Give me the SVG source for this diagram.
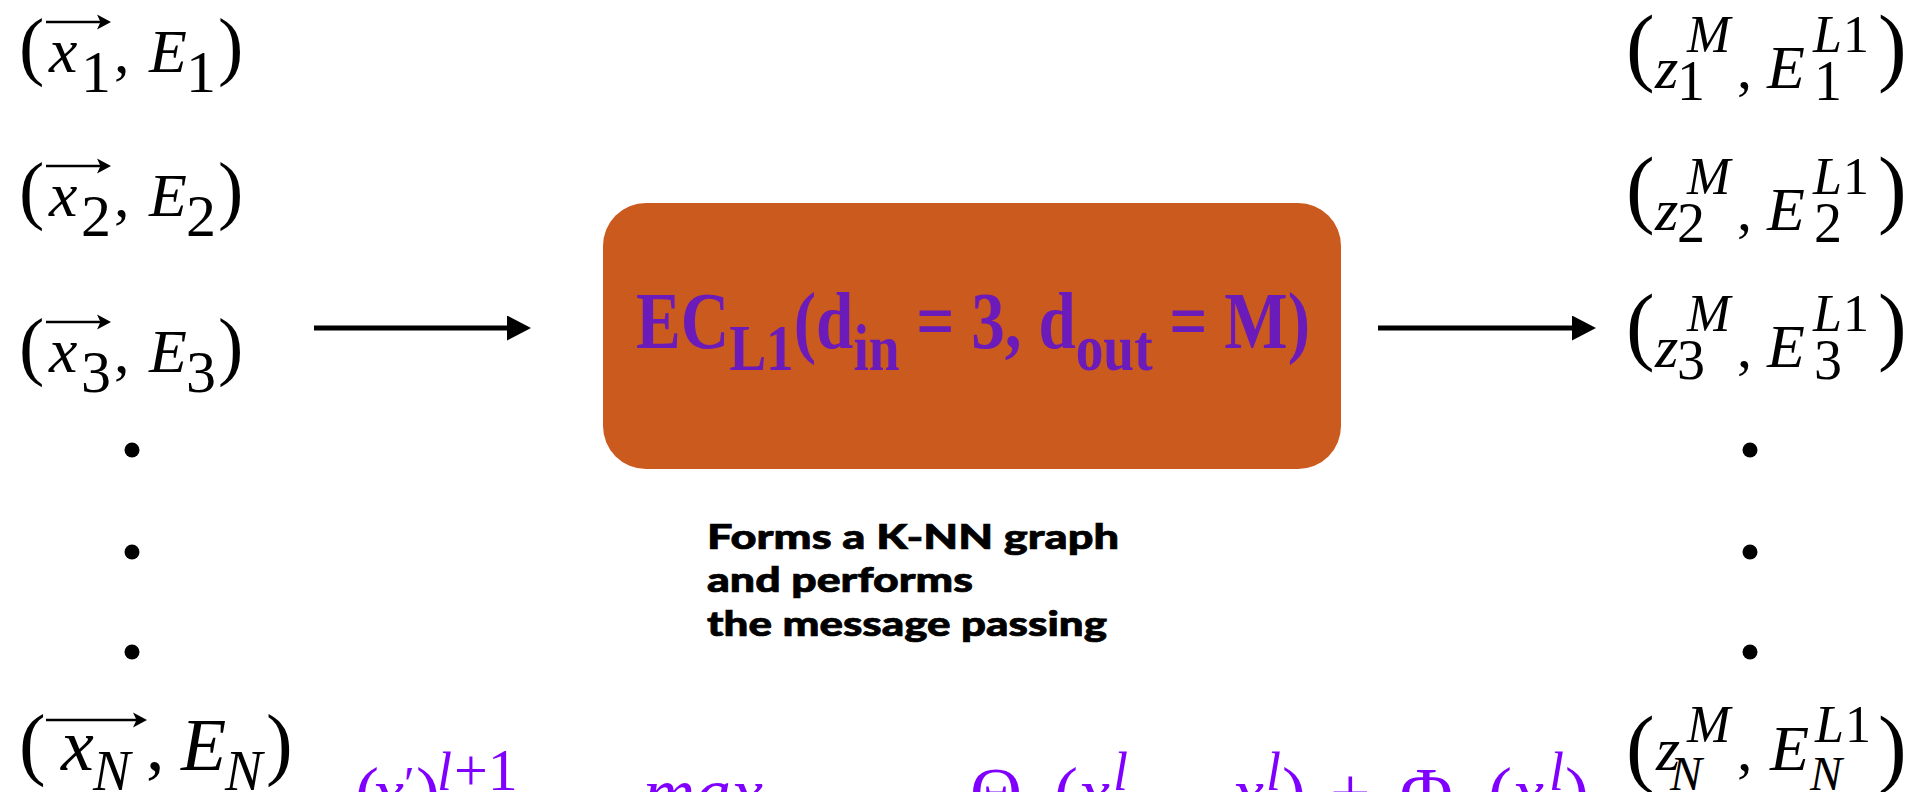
<svg xmlns="http://www.w3.org/2000/svg" width="1911" height="792" viewBox="0 0 1911 792">
<style>
.m{font-family:"Liberation Serif","Times New Roman",serif;fill:#000}
.i{font-style:italic}
.va{stroke:#000;stroke-width:2.6;fill:none}
.vh{fill:#000}
.f{font-family:"Liberation Serif","Times New Roman",serif;fill:#8000ff}
.bt{font-family:"Liberation Serif","Times New Roman",serif;font-weight:bold;fill:#6a1bb9}
.desc{font-family:Lato,"Open Sans",sans-serif;font-weight:900;font-size:34px;fill:#000;stroke:#000;stroke-width:0.7}
.conn{stroke:#000;stroke-width:5}
.dot{fill:#000}
</style>
<defs>
<marker id="ah" markerUnits="userSpaceOnUse" markerWidth="26" markerHeight="26" refX="0" refY="12.5" orient="auto">
<path d="M0 0 L24 12.5 L0 25 Z" fill="#000"/>
</marker>
</defs>
<rect width="1911" height="792" fill="#fff"/>

<g id="in1">
<text class="m" font-size="76" x="19" y="71">(</text>
<path class="va" d="M46 22 H106"/>
<path class="vh" d="M111 22 L97 14.5 L100.5 22 L97 29.5 Z"/>
<text class="m i" font-size="64" x="49" y="72">x</text>
<text class="m" font-size="60" x="81" y="92">1</text>
<text class="m" font-size="62" x="114" y="72">,</text>
<text class="m i" font-size="62" x="149" y="72">E</text>
<text class="m" font-size="60" x="186" y="92">1</text>
<text class="m" font-size="76" x="218" y="71">)</text>
</g>
<g id="in2" transform="translate(0,144)">
<text class="m" font-size="76" x="19" y="71">(</text>
<path class="va" d="M46 22 H106"/>
<path class="vh" d="M111 22 L97 14.5 L100.5 22 L97 29.5 Z"/>
<text class="m i" font-size="64" x="49" y="72">x</text>
<text class="m" font-size="60" x="81" y="92">2</text>
<text class="m" font-size="62" x="114" y="72">,</text>
<text class="m i" font-size="62" x="149" y="72">E</text>
<text class="m" font-size="60" x="186" y="92">2</text>
<text class="m" font-size="76" x="218" y="71">)</text>
</g>
<g id="in3" transform="translate(0,300)">
<text class="m" font-size="76" x="19" y="71">(</text>
<path class="va" d="M46 22 H106"/>
<path class="vh" d="M111 22 L97 14.5 L100.5 22 L97 29.5 Z"/>
<text class="m i" font-size="64" x="49" y="72">x</text>
<text class="m" font-size="60" x="81" y="92">3</text>
<text class="m" font-size="62" x="114" y="72">,</text>
<text class="m i" font-size="62" x="149" y="72">E</text>
<text class="m" font-size="60" x="186" y="92">3</text>
<text class="m" font-size="76" x="218" y="71">)</text>
</g>
<g id="inDots">
<circle class="dot" cx="132" cy="450" r="7.5"/>
<circle class="dot" cx="132" cy="552" r="7.5"/>
<circle class="dot" cx="132" cy="652" r="7.5"/>
</g>
<g id="inN">
<text class="m" font-size="80" x="19" y="770">(</text>
<path class="va" d="M46 720 H142"/>
<path class="vh" d="M147 720 L133 712.5 L136.5 720 L133 727.5 Z"/>
<text class="m i" font-size="74" x="61" y="770">x</text>
<text class="m i" font-size="56" x="93" y="790">N</text>
<text class="m" font-size="74" x="146" y="770">,</text>
<text class="m i" font-size="74" x="181" y="770">E</text>
<text class="m i" font-size="56" x="225" y="790">N</text>
<text class="m" font-size="80" x="266" y="770">)</text>
</g>

<g id="out1">
<text class="m" font-size="86" x="1626" y="75">(</text>
<text class="m i" font-size="60" x="1655" y="88">z</text>
<text class="m i" font-size="52" x="1687" y="52">M</text>
<text class="m" font-size="56" x="1677" y="100">1</text>
<text class="m" font-size="60" x="1737" y="88">,</text>
<text class="m i" font-size="62" x="1767" y="88">E</text>
<text class="m i" font-size="52" x="1813" y="52">L</text>
<text class="m" font-size="52" x="1843" y="52">1</text>
<text class="m" font-size="56" x="1814" y="100">1</text>
<text class="m" font-size="86" x="1878" y="75">)</text>
</g>
<g id="out2" transform="translate(0,142)">
<text class="m" font-size="86" x="1626" y="75">(</text>
<text class="m i" font-size="60" x="1655" y="88">z</text>
<text class="m i" font-size="52" x="1687" y="52">M</text>
<text class="m" font-size="56" x="1677" y="100">2</text>
<text class="m" font-size="60" x="1737" y="88">,</text>
<text class="m i" font-size="62" x="1767" y="88">E</text>
<text class="m i" font-size="52" x="1813" y="52">L</text>
<text class="m" font-size="52" x="1843" y="52">1</text>
<text class="m" font-size="56" x="1814" y="100">2</text>
<text class="m" font-size="86" x="1878" y="75">)</text>
</g>
<g id="out3" transform="translate(0,279)">
<text class="m" font-size="86" x="1626" y="75">(</text>
<text class="m i" font-size="60" x="1655" y="88">z</text>
<text class="m i" font-size="52" x="1687" y="52">M</text>
<text class="m" font-size="56" x="1677" y="100">3</text>
<text class="m" font-size="60" x="1737" y="88">,</text>
<text class="m i" font-size="62" x="1767" y="88">E</text>
<text class="m i" font-size="52" x="1813" y="52">L</text>
<text class="m" font-size="52" x="1843" y="52">1</text>
<text class="m" font-size="56" x="1814" y="100">3</text>
<text class="m" font-size="86" x="1878" y="75">)</text>
</g>
<g id="outDots">
<circle class="dot" cx="1750" cy="450" r="7.5"/>
<circle class="dot" cx="1750" cy="552" r="7.5"/>
<circle class="dot" cx="1750" cy="652" r="7.5"/>
</g>
<g id="outN">
<text class="m" font-size="86" x="1626" y="776">(</text>
<text class="m i" font-size="62" x="1656" y="770">z</text>
<text class="m i" font-size="52" x="1687" y="742">M</text>
<text class="m i" font-size="48" x="1670" y="790">N</text>
<text class="m" font-size="62" x="1737" y="770">,</text>
<text class="m i" font-size="64" x="1770" y="770">E</text>
<text class="m i" font-size="52" x="1815" y="742">L</text>
<text class="m" font-size="52" x="1845" y="742">1</text>
<text class="m i" font-size="48" x="1810" y="790">N</text>
<text class="m" font-size="86" x="1878" y="776">)</text>
</g>

<g id="ec">
<rect x="603" y="203" width="738" height="266" rx="43" fill="#cb5a1e"/>
<text class="bt" font-size="80" x="636" y="348" textLength="674" lengthAdjust="spacingAndGlyphs">EC<tspan dy="22" font-size="66">L1</tspan><tspan dy="-22">(d</tspan><tspan dy="22" font-size="66">in</tspan><tspan dy="-22"> = 3, d</tspan><tspan dy="22" font-size="66">out</tspan><tspan dy="-22"> = M)</tspan></text>
</g>

<g id="desc">
<text class="desc" x="707" y="549" textLength="412" lengthAdjust="spacingAndGlyphs">Forms a K-NN graph</text>
<text class="desc" x="707" y="592" textLength="266" lengthAdjust="spacingAndGlyphs">and performs</text>
<text class="desc" x="707" y="636" textLength="400" lengthAdjust="spacingAndGlyphs">the message passing</text>
</g>

<g id="formula" class="f">
<text x="355" y="817" font-size="72">(</text>
<text class="i" x="372" y="817" font-size="72">x</text>
<text x="404" y="800" font-size="48">′</text>
<text x="416" y="817" font-size="72">)</text>
<text class="i" x="437" y="790" font-size="54">l</text>
<text x="454" y="790" font-size="60">+1</text>
<text class="i" x="643" y="817" font-size="72">max</text>
<text x="970" y="817" font-size="72">Θ</text>
<text x="1054" y="817" font-size="72">(</text>
<text class="i" x="1078" y="817" font-size="72">x</text>
<text class="i" x="1113" y="790" font-size="54">l</text>
<text class="i" x="1232" y="817" font-size="72">x</text>
<text class="i" x="1266" y="790" font-size="54">l</text>
<text x="1282" y="817" font-size="72">)</text>
<text x="1330" y="817" font-size="72">+</text>
<text x="1400" y="817" font-size="72">Φ</text>
<text x="1488" y="817" font-size="72">(</text>
<text class="i" x="1512" y="817" font-size="72">x</text>
<text class="i" x="1549" y="790" font-size="54">l</text>
<text x="1565" y="817" font-size="72">)</text>
</g>

<g id="connectors">
<line class="conn" x1="314" y1="328" x2="507" y2="328" marker-end="url(#ah)"/>
<line class="conn" x1="1378" y1="328" x2="1572" y2="328" marker-end="url(#ah)"/>
</g>
</svg>
